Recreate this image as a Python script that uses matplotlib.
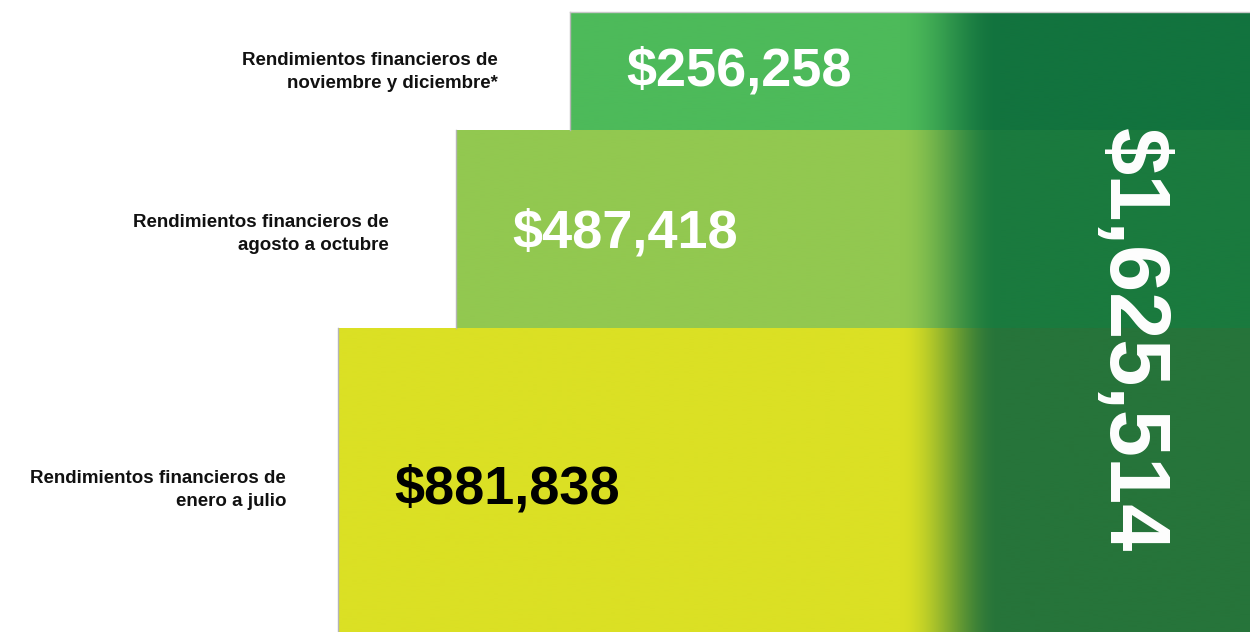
import numpy as np
import matplotlib.pyplot as plt
from matplotlib.colors import to_rgb

plt.rcParams["font.family"] = ["Liberation Sans", "DejaVu Sans"]

# ----------------------------------
# DATA
# ----------------------------------

periods = [
    "Rendimientos financieros de\nnoviembre y diciembre*",
    "Rendimientos financieros de\nagosto a octubre",
    "Rendimientos financieros de\nenero a julio",
]

amounts = [256258, 487418, 881838]

total = sum(amounts)

# ----------------------------------
# LAYOUT / STYLE (canvas in pixels)
# ----------------------------------

W, H = 1250, 632

bar_left = [570, 456, 338]
bar_top = [12, 130, 328]
bar_bottom = [130, 328, 632]

light_colors = ["#4dba5a", "#92c850", "#dbe024"]
dark_colors = ["#12733e", "#1a7a3e", "#26743a"]
amount_colors = ["white", "white", "black"]

amount_y = [72, 233, 490]
label_y = [72, 234, 490]
label_gap = [72, 67, 52]

fade_start, fade_end = 900, 1000

# ----------------------------------
# PLOT
# ----------------------------------

fig = plt.figure(figsize=(W / 100, H / 100), dpi=100)
ax = fig.add_axes([0, 0, 1, 1])
ax.set_xlim(0, W)
ax.set_ylim(H, 0)
ax.axis("off")

heights = [b - t for t, b in zip(bar_top, bar_bottom)]
centers = [(t + b) / 2 for t, b in zip(bar_top, bar_bottom)]
widths = [W - l for l in bar_left]

bars = ax.barh(
    centers,
    widths,
    left=bar_left,
    height=heights,
    color=light_colors,
    linewidth=0
)

# horizontal fade into dark green on the right side
xs = np.linspace(0, W, W + 1)
t = np.clip((xs - fade_start) / (fade_end - fade_start), 0, 1)
t = t * t * (3 - 2 * t)

for bar, light, dark, top, bottom in zip(
    bars, light_colors, dark_colors, bar_top, bar_bottom
):
    c0 = np.array(to_rgb(light))
    c1 = np.array(to_rgb(dark))
    grad = c0[None, :] * (1 - t[:, None]) + c1[None, :] * t[:, None]
    im = ax.imshow(
        grad[None, :, :],
        extent=[0, W, bottom, top],
        aspect="auto",
        interpolation="bilinear",
        zorder=2
    )
    im.set_clip_path(bar)

# thin grey edges
for left, top, bottom in zip(bar_left, bar_top, bar_bottom):
    ax.plot([left, left], [top, bottom], color="#b5b5b5", lw=1, zorder=3)
ax.plot([bar_left[0], W], [bar_top[0], bar_top[0]],
        color="#c8c8c8", lw=1, zorder=3)

# amounts inside bars
for left, y, value, col in zip(bar_left, amount_y, amounts, amount_colors):
    ax.text(
        left + 56, y,
        f"${value:,}",
        fontsize=39,
        fontweight="bold",
        color=col,
        ha="left",
        va="center",
        zorder=4
    )

# period labels on the left
for left, y, gap, label in zip(bar_left, label_y, label_gap, periods):
    ax.text(
        left - gap, y,
        label,
        fontsize=13.5,
        fontweight="bold",
        color="#111111",
        ha="right",
        va="center",
        multialignment="right",
        linespacing=1.45,
        zorder=4
    )

# vertical total
ax.text(
    1131, 340,
    f"${total:,}",
    fontsize=61,
    fontweight="bold",
    color="white",
    rotation=-90,
    ha="center",
    va="center",
    zorder=4
)

fig.savefig("out.png", dpi=100)
